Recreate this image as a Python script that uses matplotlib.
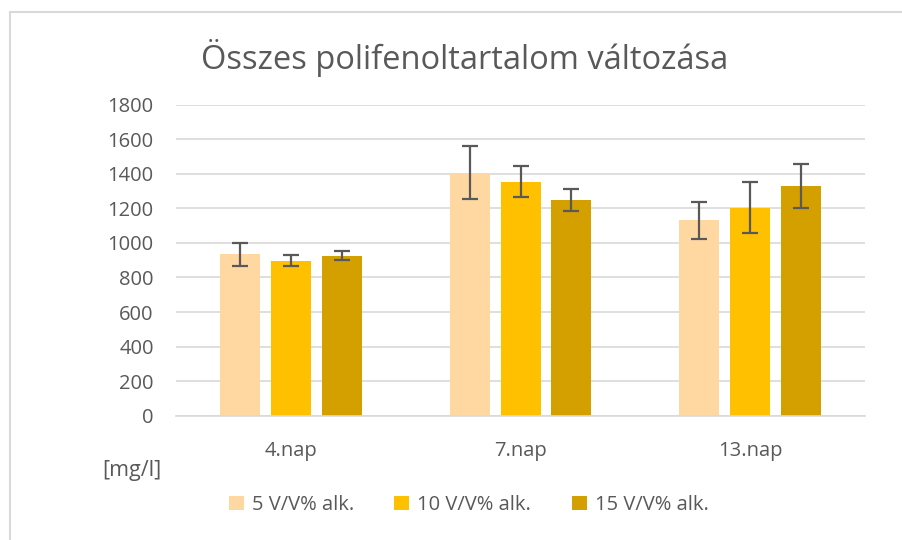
import numpy as np
import matplotlib.pyplot as plt
from matplotlib.lines import Line2D

plt.rcParams['font.family'] = ['Open Sans', 'DejaVu Sans']

# ================== DATA ==================
days = ["4.nap", "7.nap", "13.nap"]
series = ["5 V/V% alk.", "10 V/V% alk.", "15 V/V% alk."]
alk5 = [935, 1407, 1131]
alk10 = [898, 1355, 1205]
alk15 = [927, 1249, 1330]
err5 = [67, 152, 106]
err10 = [31, 90, 146]
err15 = [25, 62, 125]
yticks = [0, 200, 400, 600, 800, 1000, 1200, 1400, 1600, 1800]
# ==========================================

colors = ["#FFD8A1", "#FFC000", "#D4A000"]
txt = "#595959"
grid = "#D9D9D9"

fig = plt.figure(figsize=(9.03, 5.40), dpi=100)
fig.patch.set_facecolor("white")
ax = fig.add_axes([0.1949, 0.2302, 0.958 - 0.1949, 0.8061 - 0.2302])

# outer chart frame (only top / left visible)
fig.add_artist(Line2D([10 / 903, 1.0], [1 - 11.5 / 540] * 2, color="#D9D9D9", lw=1.5))
fig.add_artist(Line2D([10.5 / 903] * 2, [0.0, 1 - 11.5 / 540], color="#D9D9D9", lw=1.5))

x = np.arange(len(days))
w = 40 / 230
step = 51 / 230
for i, (vals, errs) in enumerate([(alk5, err5), (alk10, err10), (alk15, err15)]):
    pos = x + (i - 1) * step
    ax.bar(pos, vals, width=w, color=colors[i], label=series[i], zorder=2)
    ax.errorbar(pos, vals, yerr=errs, fmt="none", ecolor="#595959",
                elinewidth=1.6, capsize=5.5, capthick=1.6, zorder=3)

ax.set_xlim(-0.5, 2.5)
ax.set_ylim(0, 1800)
ax.set_yticks(yticks)
ax.set_xticks(x)
ax.set_xticklabels(days)
ax.yaxis.grid(True, color=grid, lw=1.2, zorder=0)
ax.set_axisbelow(True)
for s in ["top", "right", "left"]:
    ax.spines[s].set_visible(False)
ax.spines["bottom"].set_color(grid)
ax.spines["bottom"].set_linewidth(1.2)
ax.tick_params(axis="both", length=0, labelsize=14.5, colors=txt)
ax.tick_params(axis="y", pad=16)
ax.tick_params(axis="x", pad=18)

fig.text(0.514, 0.893, "Összes polifenoltartalom változása", ha="center",
         va="center", fontsize=23.5, color=txt)
fig.text(0.146, 0.128, "[mg/l]", ha="center", va="center", fontsize=15.5, color=txt)

fig.legend(loc="center", bbox_to_anchor=(0.519, 0.0648), ncol=3, frameon=False,
           fontsize=14.5, labelcolor=txt, handlelength=0.75, handleheight=0.75,
           handletextpad=0.4, columnspacing=2.0)

fig.savefig("out.png", dpi=100)
